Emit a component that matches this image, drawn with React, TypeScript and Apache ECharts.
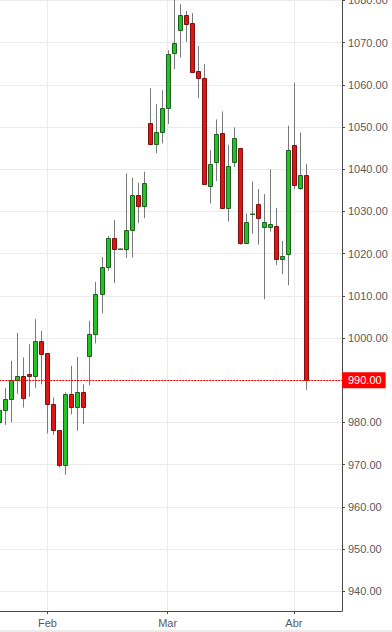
import React, { useEffect, useRef } from "react";
import * as echarts from "echarts";

// Trading days (category axis); the last few have no candle yet
const dates: string[] = [
  "2018-01-22", "2018-01-23", "2018-01-24", "2018-01-25", "2018-01-26", "2018-01-29", "2018-01-30", "2018-01-31",
  "2018-02-01", "2018-02-02", "2018-02-05", "2018-02-06", "2018-02-07", "2018-02-08", "2018-02-09", "2018-02-12",
  "2018-02-13", "2018-02-14", "2018-02-15", "2018-02-16", "2018-02-19", "2018-02-20", "2018-02-21", "2018-02-22",
  "2018-02-23", "2018-02-26", "2018-02-27", "2018-02-28",
  "2018-03-01", "2018-03-02", "2018-03-05", "2018-03-06", "2018-03-07", "2018-03-08", "2018-03-09", "2018-03-12",
  "2018-03-13", "2018-03-14", "2018-03-15", "2018-03-16", "2018-03-19", "2018-03-20", "2018-03-21", "2018-03-22",
  "2018-03-23", "2018-03-26", "2018-03-27", "2018-03-28", "2018-03-29",
  "2018-04-02", "2018-04-03", "2018-04-04", "2018-04-05", "2018-04-06", "2018-04-09", "2018-04-10", "2018-04-11",
  "2018-04-12",
];

const monthNames: string[] = ["Ene", "Feb", "Mar", "Abr", "May", "Jun", "Jul", "Ago", "Sep", "Oct", "Nov", "Dic"];

const openValues: number[] = [
  980.0, 982.9, 985.5, 990.0, 991.0, 991.5, 990.9, 999.2,
  996.4, 984.3, 978.1, 969.9, 986.7, 983.6, 987.2, 995.7, 1000.9, 1010.4, 1016.9, 1023.6, 1021.0, 1021.0,
  1025.5, 1033.9, 1031.2, 1050.9, 1045.9, 1048.8,
  1054.6, 1067.5, 1073.1, 1076.6, 1074.7, 1063.3, 1061.7, 1036.0, 1041.7, 1048.5, 1030.8, 1041.7, 1045.0,
  1022.4, 1029.5, 1031.7, 1026.4, 1026.2, 1026.6, 1018.7, 1019.9,
  1045.8, 1035.5, 1038.6,
];
const closeValues: number[] = [
  982.9, 985.5, 990.0, 991.0, 985.7, 990.9, 999.2, 996.3,
  984.3, 978.1, 969.9, 986.7, 983.6, 987.2, 983.6, 1000.9, 1010.4, 1016.9, 1023.6, 1021.0, 1021.0, 1025.5,
  1033.9, 1031.2, 1036.8, 1045.9, 1048.8, 1054.6,
  1067.2, 1069.9, 1076.6, 1074.5, 1063.1, 1061.7, 1036.4, 1041.2, 1048.3, 1030.8, 1040.7, 1047.5, 1022.4,
  1027.4, 1029.5, 1028.5, 1027.4, 1027.0, 1018.7, 1019.5, 1044.5,
  1036.2, 1038.6, 990.0,
];
const lowValues: number[] = [
  979.0, 979.4, 980.0, 986.8, 983.5, 986.1, 988.2, 989.0,
  977.4, 977.0, 969.3, 967.6, 981.9, 978.0, 979.6, 988.8, 998.7, 1005.9, 1015.9, 1013.0, 1021.0, 1019.0,
  1019.1, 1027.2, 1028.4, 1045.7, 1043.8, 1046.1,
  1050.7, 1063.7, 1066.5, 1070.2, 1062.9, 1056.8, 1036.3, 1031.9, 1037.2, 1030.7, 1027.6, 1040.5, 1022.1,
  1022.2, 1024.7, 1022.1, 1009.2, 1025.2, 1017.3, 1015.1, 1012.5,
  1035.3, 1035.1, 987.7,
];
const highValues: number[] = [
  984.0, 988.2, 994.6, 1001.2, 995.4, 998.5, 1004.5, 1001.7,
  996.4, 985.9, 978.1, 987.1, 993.4, 995.5, 989.0, 1004.1, 1013.3, 1019.2, 1024.2, 1028.0, 1021.2, 1039.0,
  1038.0, 1036.8, 1039.4, 1059.2, 1055.4, 1058.7,
  1068.2, 1081.0, 1079.1, 1077.5, 1077.0, 1069.2, 1064.9, 1044.5, 1051.8, 1053.7, 1045.8, 1049.9, 1045.0,
  1029.5, 1037.1, 1035.3, 1034.1, 1040.0, 1030.8, 1023.0, 1050.3,
  1060.5, 1048.7, 1041.3,
];

const lastPrice = 990.0;
const yMin = 935.3;
const yMax = 1080.1;

const isMonthStart = (index: number): boolean =>
  index > 0 && dates[index].slice(5, 7) !== dates[index - 1].slice(5, 7);

export default function App() {
  const ref = useRef<HTMLDivElement>(null);

  useEffect(() => {
    if (!ref.current) return;
    const chart = echarts.init(ref.current, undefined, { renderer: "svg" });

    const candleData = openValues.map((o, i) => [i, o, closeValues[i], lowValues[i], highValues[i]]);

    const renderItem = (params: any, api: any) => {
      const x = api.value(0);
      const o = api.value(1);
      const c = api.value(2);
      const l = api.value(3);
      const h = api.value(4);
      const pO = api.coord([x, o]);
      const pC = api.coord([x, c]);
      const pL = api.coord([x, l]);
      const pH = api.coord([x, h]);
      const cx = Math.round(pO[0]);
      const up = c >= o;
      const top = Math.round(Math.min(pO[1], pC[1]));
      const bottom = Math.round(Math.max(pO[1], pC[1]));
      const doji = Math.abs(c - o) < 0.05;
      return {
        type: "group",
        children: [
          {
            type: "line",
            shape: { x1: cx + 0.5, y1: pH[1], x2: cx + 0.5, y2: pL[1] },
            style: { stroke: "#7a7a7a", lineWidth: 1 },
          },
          doji
            ? {
                type: "rect",
                shape: { x: cx - 2, y: top - 0.5, width: 5, height: 1.5 },
                style: { fill: "#2a6a2a", stroke: null },
              }
            : {
                type: "rect",
                shape: { x: cx - 1.5, y: top + 0.5, width: 4, height: Math.max(bottom - top, 1) },
                style: {
                  fill: up ? "#22c322" : "#e01515",
                  stroke: up ? "#1f5f1f" : "#7e1010",
                  lineWidth: 1,
                },
              },
        ],
      };
    };

    chart.setOption({
      animation: false,
      backgroundColor: "#ffffff",
      grid: { left: -0.7, right: 50, top: 0, bottom: 21, containLabel: false, outerBoundsMode: "none" },
      xAxis: {
        type: "category",
        data: dates,
        boundaryGap: false,
        axisLine: { show: true, lineStyle: { color: "#4a4a4a", width: 1 } },
        axisTick: { show: true, length: 3, interval: (i: number) => isMonthStart(i), lineStyle: { color: "#4a4a4a" } },
        axisLabel: {
          interval: (i: number) => isMonthStart(i),
          formatter: (v: string) => monthNames[parseInt(v.slice(5, 7), 10) - 1],
          color: "#5a5a5a",
          fontSize: 11,
          fontFamily: "Liberation Sans, Arial, sans-serif",
          margin: 6,
        },
        splitLine: {
          show: true,
          interval: (i: number) => isMonthStart(i),
          lineStyle: { color: "#ebebeb", width: 1 },
        },
      },
      yAxis: {
        type: "value",
        position: "right",
        min: yMin,
        max: yMax,
        splitNumber: 14,
        axisLine: { show: true, lineStyle: { color: "#4a4a4a", width: 1 } },
        axisTick: { show: true, length: 3, lineStyle: { color: "#4a4a4a" } },
        axisLabel: {
          formatter: (v: number) => v.toFixed(2),
          showMinLabel: false,
          showMaxLabel: false,
          color: "#5a5a5a",
          fontSize: 11,
          fontFamily: "Liberation Sans, Arial, sans-serif",
          margin: 6,
        },
        splitLine: { show: true, lineStyle: { color: "#ebebeb", width: 1 } },
      },
      series: [
        {
          type: "custom",
          name: "OHLC",
          renderItem,
          encode: { x: 0, y: [1, 2, 3, 4] },
          data: candleData,
          clip: true,
          markLine: {
            silent: true,
            symbol: ["none", "none"],
            lineStyle: { color: "#e00000", type: [2, 1], width: 1, opacity: 1 },
            data: [{ yAxis: lastPrice, lineStyle: { color: "#e00000" } }],
            label: {
              show: true,
              position: "end",
              distance: 0,
              formatter: (p: any) => Number(p.value).toFixed(2),
              color: "#ffffff",
              backgroundColor: "#ff0000",
              fontSize: 11,
              fontFamily: "Liberation Sans, Arial, sans-serif",
              padding: [2, 4, 1, 6],
              lineHeight: 13,
            },
          },
        },
      ],
      graphic: [
        {
          type: "rect",
          left: 0,
          bottom: 0,
          shape: { width: 392, height: 2 },
          style: { fill: "#ebebeb" },
          silent: true,
        },
      ],
    });

    return () => chart.dispose();
  }, []);

  return (
    <div
      ref={ref}
      style={{ position: "fixed", left: 0, top: 0, width: 392, height: 632, background: "#fff" }}
    />
  );
}
